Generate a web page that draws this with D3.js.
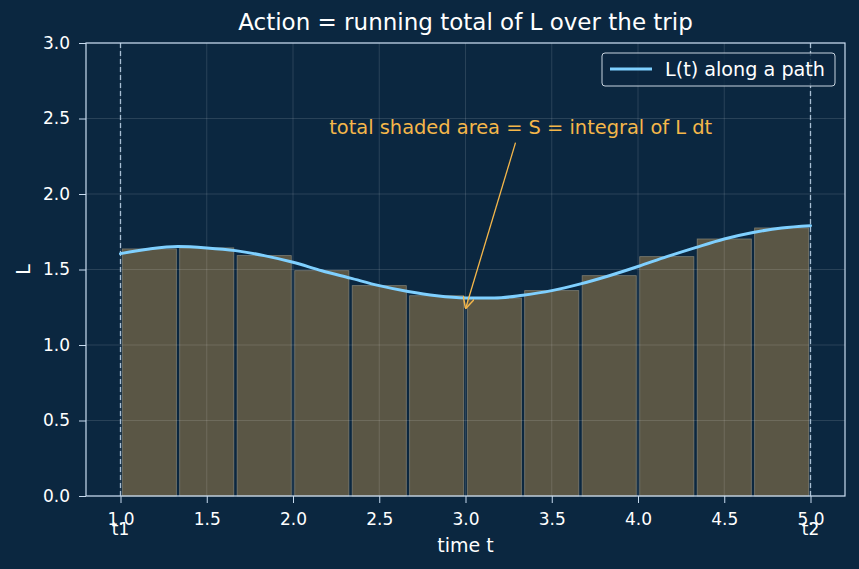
<html>
<head>
  <title>Action</title>
  <script type="text/javascript" src="https://cdn.jsdelivr.net/npm/d3@7"></script>
  <style type="text/css">
    body { margin: 0; background: #0b2740; }
    text { font-family: "DejaVu Sans", sans-serif; }
  </style>
</head>
<body>
<script>
  // Width and height
  const w = 859;
  const h = 569;
  const margin = { top: 43, right: 14, bottom: 73, left: 86 };

  // Curve samples
  const curveT = [1.0, 1.167, 1.333, 1.5, 1.667, 1.833, 2.0, 2.167, 2.333, 2.5, 2.667, 2.833, 3.0, 3.167, 3.333, 3.5, 3.667, 3.833, 4.0, 4.167, 4.333, 4.5, 4.667, 4.833, 5.0];
  const curveL = [1.605, 1.636, 1.652, 1.643, 1.625, 1.592, 1.548, 1.492, 1.443, 1.393, 1.354, 1.326, 1.312, 1.311, 1.330, 1.360, 1.405, 1.459, 1.520, 1.585, 1.645, 1.702, 1.745, 1.775, 1.790];

  // Midpoint bars
  const barMid = [1.167, 1.5, 1.833, 2.167, 2.5, 2.833, 3.167, 3.5, 3.833, 4.167, 4.5, 4.833];
  const barL = [1.636, 1.643, 1.592, 1.492, 1.393, 1.326, 1.311, 1.360, 1.459, 1.585, 1.702, 1.775];
  const barDt = 1 / 3;

  const xTicks = [1.0, 1.5, 2.0, 2.5, 3.0, 3.5, 4.0, 4.5, 5.0];
  const yTicks = [0, 0.5, 1.0, 1.5, 2.0, 2.5, 3.0];
  const tEnds = [{ t: 1, label: "t1" }, { t: 5, label: "t2" }];

  const fg = "#ffffff";
  const spine = "#c8dcf0";
  const tickSize = "17px";
  const labelSize = "19px";

  const xScale = d3.scaleLinear().domain([0.8, 5.2]).range([margin.left, w - margin.right]);
  const yScale = d3.scaleLinear().domain([0, 3]).range([h - margin.bottom, margin.top]);

  const svg = d3.select("body").append("svg")
    .attr("width", w)
    .attr("height", h)
    .style("display", "block");

  svg.append("rect").attr("width", w).attr("height", h).attr("fill", "#0b2740");

  // Bars
  svg.append("g").selectAll("rect")
    .data(barMid)
    .join("rect")
    .attr("x", (d) => xScale(d - barDt * 0.47))
    .attr("width", (d) => xScale(d + barDt * 0.47) - xScale(d - barDt * 0.47))
    .attr("y", (d, i) => yScale(barL[i]))
    .attr("height", (d, i) => yScale(0) - yScale(barL[i]))
    .attr("fill", "#5a5645")
    .attr("stroke", "#7d7c70")
    .attr("stroke-width", 0.8);

  // Grid
  const grid = svg.append("g").attr("stroke", "#ffffff").attr("stroke-opacity", 0.16).attr("stroke-width", 0.8);
  grid.selectAll(".gx").data(xTicks).join("line")
    .attr("x1", (d) => xScale(d)).attr("x2", (d) => xScale(d))
    .attr("y1", yScale(0)).attr("y2", yScale(3));
  grid.selectAll(".gy").data(yTicks).join("line")
    .attr("y1", (d) => yScale(d)).attr("y2", (d) => yScale(d))
    .attr("x1", margin.left).attr("x2", w - margin.right);

  // t1 / t2 dashed lines
  svg.append("g").selectAll("line")
    .data(tEnds)
    .join("line")
    .attr("x1", (d) => xScale(d.t)).attr("x2", (d) => xScale(d.t))
    .attr("y1", yScale(0)).attr("y2", yScale(3))
    .attr("stroke", "#a9bfd4")
    .attr("stroke-width", 1.3)
    .attr("stroke-dasharray", "5,3");

  // Curve
  const line = d3.line()
    .x((d, i) => xScale(curveT[i]))
    .y((d) => yScale(d))
    .curve(d3.curveMonotoneX);

  svg.append("path")
    .datum(curveL)
    .attr("fill", "none")
    .attr("stroke", "#7fd0ff")
    .attr("stroke-width", 3)
    .attr("stroke-linecap", "round")
    .attr("d", line);

  // Axes
  const xAxis = d3.axisBottom(xScale).tickValues(xTicks).tickFormat(d3.format(".1f")).tickSize(7).tickPadding(9.5);
  const yAxis = d3.axisLeft(yScale).tickValues(yTicks).tickFormat(d3.format(".1f")).tickSize(7).tickPadding(9);

  const gx = svg.append("g").attr("transform", "translate(0," + yScale(0) + ")").call(xAxis);
  const gy = svg.append("g").attr("transform", "translate(" + margin.left + ",0)").call(yAxis);
  [gx, gy].forEach((g) => {
    g.select(".domain").remove();
    g.selectAll(".tick line").attr("stroke", spine).attr("stroke-width", 1);
    g.selectAll(".tick text").attr("fill", fg).style("font-size", tickSize);
  });

  // Spines
  svg.append("rect")
    .attr("x", margin.left).attr("y", margin.top)
    .attr("width", w - margin.right - margin.left)
    .attr("height", yScale(0) - margin.top)
    .attr("fill", "none")
    .attr("stroke", spine)
    .attr("stroke-width", 1.2);

  // t1 / t2 labels
  svg.append("g").selectAll("text")
    .data(tEnds)
    .join("text")
    .attr("x", (d) => xScale(d.t))
    .attr("y", yScale(0) + 38.5)
    .attr("text-anchor", "middle")
    .attr("fill", fg)
    .style("font-size", tickSize)
    .text((d) => d.label);

  // Axis labels
  svg.append("text")
    .attr("x", (margin.left + w - margin.right) / 2)
    .attr("y", 552)
    .attr("text-anchor", "middle")
    .attr("fill", fg)
    .style("font-size", labelSize)
    .text("time t");

  svg.append("text")
    .attr("transform", "translate(30," + (margin.top + yScale(0)) / 2 + ") rotate(-90)")
    .attr("text-anchor", "middle")
    .attr("fill", fg)
    .style("font-size", labelSize)
    .text("L");

  // Title
  svg.append("text")
    .attr("x", (margin.left + w - margin.right) / 2)
    .attr("y", 30)
    .attr("text-anchor", "middle")
    .attr("fill", fg)
    .style("font-size", "23px")
    .text("Action = running total of L over the trip");

  // Annotation
  const ann = svg.append("g");
  ann.append("defs").append("marker")
    .attr("id", "arr")
    .attr("viewBox", "0 0 10 10")
    .attr("refX", 10).attr("refY", 5)
    .attr("markerWidth", 9).attr("markerHeight", 9)
    .attr("orient", "auto")
    .append("path")
    .attr("d", "M0,0 L10,5 L0,10")
    .attr("fill", "none")
    .attr("stroke", "#f5b74a")
    .attr("stroke-width", 1.3);

  ann.append("line")
    .attr("x1", xScale(3.29)).attr("y1", yScale(2.34))
    .attr("x2", xScale(3.0)).attr("y2", yScale(1.24))
    .attr("stroke", "#f5b74a")
    .attr("stroke-width", 1.3)
    .attr("marker-end", "url(#arr)");

  ann.append("text")
    .attr("x", xScale(3.32))
    .attr("y", 134)
    .attr("text-anchor", "middle")
    .attr("fill", "#f5b74a")
    .style("font-size", "19.4px")
    .text("total shaded area = S = integral of L dt");

  // Legend
  const leg = svg.append("g").attr("transform", "translate(602,53)");
  leg.append("rect")
    .attr("width", 233).attr("height", 33).attr("rx", 3)
    .attr("fill", "#0b2740").attr("fill-opacity", 0.8)
    .attr("stroke", "#c8d4e0").attr("stroke-width", 1);
  leg.append("line")
    .attr("x1", 8).attr("x2", 50).attr("y1", 16).attr("y2", 16)
    .attr("stroke", "#7fd0ff").attr("stroke-width", 3);
  leg.append("text")
    .attr("x", 63).attr("y", 23)
    .attr("fill", fg)
    .style("font-size", "19.2px")
    .text("L(t) along a path");
</script>
</body>
</html>
